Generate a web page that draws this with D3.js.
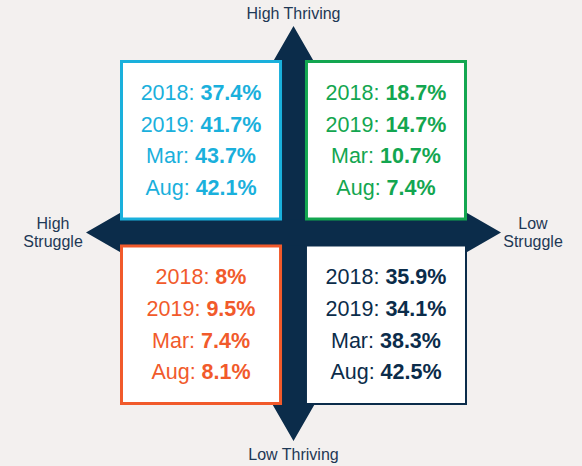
<!DOCTYPE html>
<html>
<head>
<meta charset="utf-8">
<script src="https://cdn.jsdelivr.net/npm/d3@7"></script>
<style>
  html, body { margin: 0; padding: 0; background: #f3f0ef; }
  svg { display: block; font-family: 'Liberation Sans', Arial, sans-serif; }
</style>
</head>
<body>
<div id="chart"></div>
<script>
const width = 582
const height = 466

// data
const struggle = ['High Struggle', 'Low Struggle']
const thriving = ['High Thriving', 'Low Thriving']
const periods = ['2018', '2019', 'Mar', 'Aug']
const highThrivingHighStruggle = ['37.4%', '41.7%', '43.7%', '42.1%']
const highThrivingLowStruggle = ['18.7%', '14.7%', '10.7%', '7.4%']
const lowThrivingHighStruggle = ['8%', '9.5%', '7.4%', '8.1%']
const lowThrivingLowStruggle = ['35.9%', '34.1%', '38.3%', '42.5%']

const navy = '#0b2c4a'

const quadrants = [
  { s: 'High Struggle', t: 'High Thriving', values: highThrivingHighStruggle, color: '#1ab0dc', sw: 3 },
  { s: 'Low Struggle', t: 'High Thriving', values: highThrivingLowStruggle, color: '#13a650', sw: 3 },
  { s: 'High Struggle', t: 'Low Thriving', values: lowThrivingHighStruggle, color: '#f15a2b', sw: 3 },
  { s: 'Low Struggle', t: 'Low Thriving', values: lowThrivingLowStruggle, color: navy, sw: 2 },
]

const x = d3.scaleBand().domain(struggle).range([120, 467]).paddingInner(0.124)
const y = d3.scaleBand().domain(thriving).range([60, 405]).paddingInner(0.13)
const line = d3.scalePoint().domain(periods).range([40, 135])

const cx = (x(struggle[0]) + x.bandwidth() + x(struggle[1])) / 2
const cy = (y(thriving[0]) + y.bandwidth() + y(thriving[1])) / 2

const svg = d3
  .select('#chart')
  .append('svg')
  .attr('width', width)
  .attr('height', height)
  .attr('viewBox', [0, 0, width, height])

svg.append('rect').attr('width', width).attr('height', height).attr('fill', '#f3f0ef')

// cross arrows
const shaft = 13
const headLen = 40
const headHalf = 23
const tips = { top: 26, bottom: 441, left: 86, right: 501 }

const vArrow = [
  [cx, tips.top], [cx + headHalf, tips.top + headLen], [cx + shaft, tips.top + headLen],
  [cx + shaft, tips.bottom - headLen], [cx + headHalf, tips.bottom - headLen], [cx, tips.bottom],
  [cx - headHalf, tips.bottom - headLen], [cx - shaft, tips.bottom - headLen],
  [cx - shaft, tips.top + headLen], [cx - headHalf, tips.top + headLen],
]
const hArrow = [
  [tips.left, cy], [tips.left + headLen, cy - headHalf], [tips.left + headLen, cy - shaft],
  [tips.right - headLen, cy - shaft], [tips.right - headLen, cy - headHalf], [tips.right, cy],
  [tips.right - headLen, cy + headHalf], [tips.right - headLen, cy + shaft],
  [tips.left + headLen, cy + shaft], [tips.left + headLen, cy + headHalf],
]

svg.selectAll('polygon.arrow')
  .data([vArrow, hArrow])
  .join('polygon')
  .attr('class', 'arrow')
  .attr('points', d => d.map(p => p.join(',')).join(' '))
  .attr('fill', navy)

// axis labels
const axisLabels = [
  { lines: ['High Thriving'], x: cx, y: 19 },
  { lines: ['Low Thriving'], x: cx, y: 460 },
  { lines: ['High', 'Struggle'], x: 53, y: 229 },
  { lines: ['Low', 'Struggle'], x: 533, y: 229 },
]
svg.selectAll('text.axis')
  .data(axisLabels)
  .join('text')
  .attr('class', 'axis')
  .attr('text-anchor', 'middle')
  .attr('font-size', 16)
  .attr('fill', '#1e3855')
  .each(function (d) {
    d3.select(this).selectAll('tspan')
      .data(d.lines)
      .join('tspan')
      .attr('x', d.x)
      .attr('y', (l, i) => d.y + i * 18)
      .text(l => l)
  })

// quadrant boxes
const box = svg.selectAll('g.box')
  .data(quadrants)
  .join('g')
  .attr('class', 'box')
  .attr('transform', d => `translate(${x(d.s)},${y(d.t)})`)

box.append('rect')
  .attr('x', d => d.sw / 2)
  .attr('y', d => d.sw / 2)
  .attr('width', d => x.bandwidth() - d.sw)
  .attr('height', d => y.bandwidth() - d.sw)
  .attr('fill', '#fff')
  .attr('stroke', d => d.color)
  .attr('stroke-width', d => d.sw)

box.each(function (q) {
  d3.select(this).selectAll('text')
    .data(periods.map((p, i) => ({ p, v: q.values[i] })))
    .join('text')
    .attr('x', x.bandwidth() / 2)
    .attr('y', d => line(d.p))
    .attr('text-anchor', 'middle')
    .attr('font-size', 21.5)
    .attr('fill', q.color)
    .call(t => t.append('tspan').text(d => d.p + ': '))
    .call(t => t.append('tspan').attr('font-weight', 'bold').text(d => d.v))
})
</script>
</body>
</html>
